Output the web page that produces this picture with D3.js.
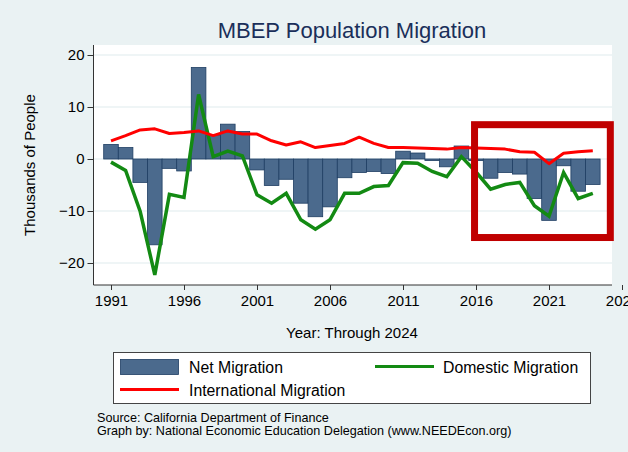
<!DOCTYPE html>
<html><head><meta charset="utf-8">
<script src="https://cdn.jsdelivr.net/npm/d3@7"></script>
<style>
html,body{margin:0;padding:0;background:#eaf2f3;}
svg{display:block;font-family:"Liberation Sans",Arial,Helvetica,sans-serif;}
</style></head>
<body>
<svg id="chart" width="628" height="452"></svg>
<script>
const years = d3.range(1991, 2025);
const netMigration = [2.8, 2.2, -4.5, -16.5, -1.8, -2.3, 17.6, 4.5, 6.7, 5.3,
  -2.1, -5.1, -3.9, -8.5, -11.1, -9.2, -3.6, -2.6, -2.4, -2.8,
  1.5, 1.15, -0.3, -1.5, 2.5, -0.3, -3.7, -2.6, -2.9, -7.6,
  -11.8, -1.3, -6.2, -4.9];
const domesticMigration = [-0.6, -2.2, -10.1, -22.3, -6.8, -7.4, 12.4, 0.45, 1.5, 0.6,
  -6.9, -8.5, -6.6, -11.7, -13.5, -11.7, -6.6, -6.6, -5.3, -5.1,
  -0.7, -0.8, -2.4, -3.4, 0.45, -2.5, -5.8, -4.9, -4.5, -9.0,
  -11.0, -2.6, -7.6, -6.6];
const internationalMigration = [3.5, 4.5, 5.6, 5.8, 4.9, 5.1, 5.4, 4.5, 5.4, 4.8,
  4.8, 3.5, 2.7, 3.3, 2.2, 2.6, 3.0, 4.2, 3.0, 2.2,
  2.2, 2.1, 2.0, 1.9, 2.2, 2.1, 2.0, 1.9, 1.4, 1.3,
  -0.9, 1.1, 1.4, 1.6];
const xTicks = [1991, 1996, 2001, 2006, 2011, 2016, 2021, 2026];
const yTicks = [-20, -10, 0, 10, 20];
const highlight = {x0: 2015.9, x1: 2025.2, y0: 6.6, y1: -15.1};

const svg = d3.select("#chart");
const plot = {left: 93.5, right: 612, top: 45, bottom: 285};
const x = d3.scaleLinear().domain([1991, 2026]).range([111, 622]);
const y = d3.scaleLinear().domain([-20, 20]).range([263, 55]);

svg.append("rect").attr("width", 628).attr("height", 452).attr("fill", "#eaf2f3");
svg.append("rect").attr("x", plot.left).attr("y", plot.top)
  .attr("width", plot.right - plot.left).attr("height", plot.bottom - plot.top).attr("fill", "#fff");

// grid
svg.append("g").selectAll("line").data(yTicks).join("line")
  .attr("x1", plot.left).attr("x2", plot.right)
  .attr("y1", d => y(d)).attr("y2", d => y(d))
  .attr("stroke", "#eaf2f3").attr("stroke-width", 1.5);

// bars
const bw = x(1) - x(0);
svg.append("g").selectAll("rect").data(years).join("rect")
  .attr("x", (d) => x(d - 0.5))
  .attr("width", bw)
  .attr("y", (d, i) => y(Math.max(0, netMigration[i])))
  .attr("height", (d, i) => Math.abs(y(netMigration[i]) - y(0)))
  .attr("fill", "#4b6a8d").attr("stroke", "#1e3e63").attr("stroke-width", 0.8);

// lines
const line = arr => d3.line().x((d, i) => x(years[i])).y(d => y(d))(arr);
svg.append("path").attr("d", line(domesticMigration)).attr("fill", "none")
  .attr("stroke", "#138a13").attr("stroke-width", 3.5).attr("stroke-linejoin", "miter");
svg.append("path").attr("d", line(internationalMigration)).attr("fill", "none")
  .attr("stroke", "#ff0000").attr("stroke-width", 3).attr("stroke-linejoin", "round");

// highlight rectangle
svg.append("rect")
  .attr("x", x(highlight.x0)).attr("y", y(highlight.y0))
  .attr("width", x(highlight.x1) - x(highlight.x0))
  .attr("height", y(highlight.y1) - y(highlight.y0))
  .attr("fill", "none").attr("stroke", "#c00000").attr("stroke-width", 7);

// axes
const yAxis = svg.append("g").attr("transform", `translate(${plot.left},0)`)
  .call(d3.axisLeft(y).tickValues(yTicks).tickSize(6).tickPadding(3));
yAxis.select(".domain").remove();
yAxis.selectAll("text").attr("font-size", 15).attr("fill", "#000").style("font-family", "'Liberation Sans',Arial,sans-serif");
yAxis.selectAll("line").attr("stroke", "#333");
svg.append("line").attr("x1", plot.left).attr("x2", plot.left)
  .attr("y1", plot.top).attr("y2", plot.bottom).attr("stroke", "#333").attr("stroke-width", 1);

const xAxis = svg.append("g").attr("transform", `translate(0,${plot.bottom})`)
  .call(d3.axisBottom(x).tickValues(xTicks).tickFormat(d3.format("d")).tickSize(5).tickPadding(5));
xAxis.select(".domain").remove();
xAxis.selectAll("text").attr("font-size", 15).attr("fill", "#000").style("font-family", "'Liberation Sans',Arial,sans-serif");
xAxis.selectAll("line").attr("stroke", "#333");
svg.append("line").attr("x1", plot.left).attr("x2", plot.right)
  .attr("y1", plot.bottom).attr("y2", plot.bottom).attr("stroke", "#333").attr("stroke-width", 1);

// titles
svg.append("text").attr("x", 352).attr("y", 37.5).attr("text-anchor", "middle")
  .attr("font-size", 22).attr("fill", "#1a2f5a").text("MBEP Population Migration");
svg.append("text").attr("transform", "translate(35,165) rotate(-90)").attr("text-anchor", "middle")
  .attr("font-size", 15).attr("fill", "#000").text("Thousands of People");
svg.append("text").attr("x", 352).attr("y", 338).attr("text-anchor", "middle")
  .attr("font-size", 15).attr("fill", "#000").text("Year: Through 2024");

// legend
const lg = svg.append("g");
lg.append("rect").attr("x", 113.5).attr("y", 352.5).attr("width", 477).attr("height", 51)
  .attr("fill", "#fff").attr("stroke", "#444").attr("stroke-width", 1);
lg.append("rect").attr("x", 120.5).attr("y", 359.5).attr("width", 58).attr("height", 15)
  .attr("fill", "#4b6a8d").attr("stroke", "#1e3e63").attr("stroke-width", 0.8);
lg.append("line").attr("x1", 120).attr("x2", 179).attr("y1", 389.5).attr("y2", 389.5)
  .attr("stroke", "#ff0000").attr("stroke-width", 3);
lg.append("line").attr("x1", 375).attr("x2", 434).attr("y1", 366.5).attr("y2", 366.5)
  .attr("stroke", "#138a13").attr("stroke-width", 3);
const lt = [["Net Migration", 189, 373], ["International Migration", 189, 396], ["Domestic Migration", 443, 373]];
lg.selectAll("text.l").data(lt).join("text").attr("class", "l")
  .attr("x", d => d[1]).attr("y", d => d[2]).attr("font-size", 15.8).attr("fill", "#000").text(d => d[0]);

// footer
svg.append("text").attr("x", 97).attr("y", 422).attr("font-size", 12.6).attr("fill", "#000")
  .text("Source: California Department of Finance");
svg.append("text").attr("x", 97).attr("y", 435).attr("font-size", 12.6).attr("fill", "#000")
  .text("Graph by: National Economic Education Delegation (www.NEEDEcon.org)");
</script>
</body></html>
